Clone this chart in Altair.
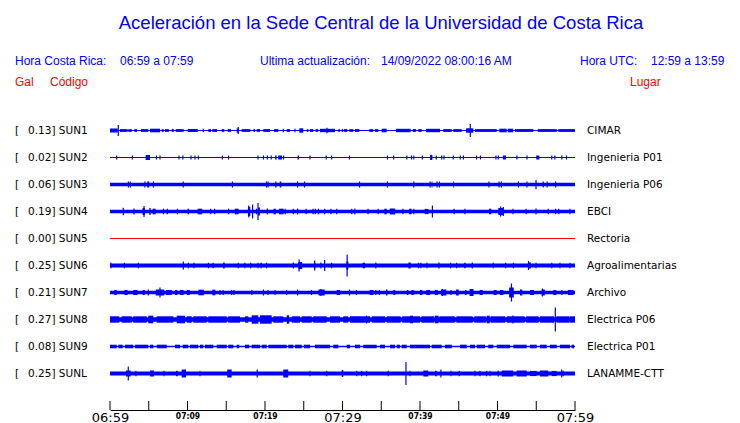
import altair as alt
import pandas as pd

# ---------------- data ----------------
stations = ["SUN1", "SUN2", "SUN3", "SUN4", "SUN5", "SUN6", "SUN7", "SUN8", "SUN9", "SUNL"]
gal = [0.13, 0.02, 0.06, 0.19, 0.00, 0.25, 0.21, 0.27, 0.08, 0.25]
places = ["CIMAR", "Ingenieria P01", "Ingenieria P06", "EBCI", "Rectoria",
          "Agroalimentarias", "Archivo", "Electrica P06", "Electrica P01", "LANAMME-CTT"]
trace_colors = ["#0000ff", "#0000ff", "#0000ff", "#0000ff", "#ff0000",
                "#0000ff", "#0000ff", "#0000ff", "#0000ff", "#0000ff"]
# half-thickness of the continuous background noise of each trace
base_amp = [0.6, 0.5, 1.8, 1.7, 0.5, 1.9, 1.7, 2.2, 0.7, 2.0]

# minutes after 06:59 (start, end, half amplitude)
SUN1_blocks = [(0.0, 0.99, 2.0), (1.29, 2.28, 1.4), (2.36, 2.80, 1.4), (3.14, 3.48, 1.4), (4.0, 4.94, 1.4),
               (5.16, 6.45, 1.8), (6.67, 6.92, 1.4), (7.1, 7.61, 1.4), (7.96, 8.22, 1.4), (8.48, 9.51, 1.4),
               (10.03, 11.32, 1.5), (12.68, 13.03, 1.4), (13.2, 13.81, 1.4), (14.41, 14.75, 1.4),
               (15.19, 15.61, 1.4), (16.35, 16.65, 2.0), (16.99, 18.1, 1.4), (18.49, 18.71, 1.4),
               (18.93, 19.35, 1.4), (19.78, 20.65, 1.4), (21.16, 21.72, 1.4), (22.8, 23.23, 1.4),
               (24.43, 24.94, 2.2), (25.38, 25.59, 1.4), (25.81, 26.23, 1.4), (26.54, 26.88, 1.4),
               (27.1, 29.03, 1.7), (29.46, 29.68, 1.4), (29.9, 30.1, 1.4), (30.19, 30.62, 1.4),
               (30.88, 31.39, 1.4), (31.61, 32.17, 1.4), (33.46, 33.97, 1.4), (34.19, 34.62, 1.4),
               (35.06, 35.7, 1.8), (36.9, 38.8, 1.7), (39.06, 39.48, 1.4), (39.78, 40.22, 1.4),
               (40.77, 42.58, 1.7), (43.0, 44.09, 1.4), (44.3, 45.38, 1.4), (45.94, 46.88, 2.2),
               (47.1, 49.9, 1.4), (50.23, 51.19, 1.8), (51.32, 52.03, 1.8), (52.26, 54.62, 1.4),
               (55.19, 57.64, 1.4), (57.85, 60.0, 1.4)]
SUN1_spikes = [(1.07, 5.5), (12.04, 1.8), (16.55, 3.5), (22.36, 1.8), (23.87, 1.8), (28.0, 2.8), (46.49, 6.5)]

SUN2_blocks = [(4.6, 5.16, 2.5), (21.3, 21.5, 2.0), (21.7, 22.2, 2.0), (24.2, 24.4, 2.0),
               (41.3, 41.6, 2.5), (50.7, 51.1, 2.0), (55.0, 55.4, 2.0)]
SUN2_spikes = [(0.86, 2), (2.88, 2), (6.0, 2), (6.45, 2), (8.9, 2), (9.4, 2), (10.45, 2), (10.97, 2),
               (11.4, 2), (14.5, 2), (15.3, 2), (19.1, 2), (19.8, 2), (20.3, 2), (20.8, 2), (22.4, 2),
               (25.8, 2), (27.9, 2), (28.6, 2), (30.9, 2), (35.8, 2), (36.6, 2), (38.3, 2), (38.9, 2),
               (39.2, 2), (40.3, 2), (42.1, 2), (42.8, 2), (43.1, 2), (44.3, 2), (45.2, 2), (45.6, 2),
               (47.3, 2), (47.8, 2), (49.8, 2), (50.1, 2), (52.5, 2), (53.8, 2), (57.0, 2), (57.4, 2),
               (58.3, 2), (58.9, 2)]

SUN3_blocks = [(4.8, 5.06, 3.0), (21.9, 22.1, 3.0), (41.5, 41.6, 3.0), (44.3, 44.4, 3.0)]
SUN3_spikes = [(2.37, 3), (2.62, 3), (4.5, 3), (5.6, 3), (9.45, 3), (15.8, 3), (20.2, 3), (20.4, 3),
               (21.4, 3), (24.2, 3), (25.1, 3), (32.2, 3), (35.8, 3), (39.2, 3), (41.3, 3), (42.2, 3),
               (42.5, 3), (48.9, 3), (50.2, 3), (50.5, 3), (52.7, 3), (53.8, 3), (54.97, 4.5), (55.9, 3),
               (56.4, 3), (57.5, 3)]

SUN4_blocks = [(4.2, 4.5, 3.5), (5.08, 5.25, 3.5), (5.5, 5.9, 2.8), (10.0, 10.2, 2.8), (11.3, 11.9, 2.8),
               (16.1, 16.6, 2.8), (17.8, 18.1, 4.5), (19.1, 19.35, 4.0), (21.1, 21.4, 2.8), (21.8, 22.4, 2.8),
               (35.4, 35.7, 2.8), (36.1, 36.8, 3.0), (38.6, 38.9, 2.8), (40.6, 41.1, 2.6), (48.9, 49.2, 2.8),
               (50.1, 50.75, 3.5)]
SUN4_spikes = [(1.72, 3.8), (3.1, 3.0), (4.39, 5.5), (6.9, 2.8), (7.4, 2.8), (8.7, 2.8), (13.0, 2.8),
               (13.5, 2.8), (15.3, 2.8), (17.9, 6.0), (18.4, 7.0), (18.9, 2.8), (19.1, 8.5), (20.3, 3.0),
               (22.6, 2.8), (23.65, 2.8), (24.2, 3.0), (25.3, 2.8), (26.2, 2.8), (26.5, 2.8), (26.9, 2.8),
               (27.7, 2.8), (28.5, 2.8), (29.25, 2.8), (31.2, 2.8), (31.6, 3.0), (33.3, 2.8), (34.6, 2.8),
               (37.8, 2.8), (39.2, 2.8), (41.6, 6.0), (44.4, 2.8), (45.8, 2.8), (50.4, 5.0), (50.75, 4.5),
               (52.0, 2.8), (53.7, 2.8), (54.97, 3.0), (56.55, 2.8), (57.5, 2.8), (57.9, 2.8), (59.35, 2.8)]

SUN5_blocks = []
SUN5_spikes = []

SUN6_blocks = [(14.6, 14.8, 3.0), (19.4, 19.6, 2.8), (24.3, 24.8, 3.5), (26.35, 26.5, 3.0), (30.5, 30.75, 4.0),
               (32.6, 32.9, 2.8), (38.5, 38.8, 3.0), (44.65, 44.8, 2.8), (45.7, 45.9, 2.8), (53.97, 54.3, 3.0)]
SUN6_spikes = [(0.13, 2.8), (1.85, 2.8), (3.65, 2.8), (9.46, 4.0), (10.1, 2.8), (10.84, 2.8), (12.7, 2.8),
               (13.3, 2.8), (16.55, 2.8), (17.4, 2.8), (18.15, 2.8), (19.1, 2.8), (20.2, 2.8), (23.65, 3.0),
               (24.4, 6.0), (26.4, 5.0), (27.2, 3.0), (27.7, 5.5), (28.6, 2.8), (30.6, 11.0), (34.3, 3.0),
               (39.8, 2.8), (40.1, 2.8), (40.9, 2.8), (42.45, 3.0), (43.95, 2.8), (46.75, 3.0), (49.45, 2.8),
               (51.05, 2.8), (52.05, 2.8), (54.0, 4.5), (54.97, 2.8), (57.0, 2.8), (58.06, 2.8), (59.35, 2.8)]

SUN7_blocks = [(0.55, 0.86, 2.5), (1.85, 2.28, 2.5), (3.0, 3.57, 2.5), (4.2, 4.5, 2.5), (5.9, 7.0, 3.0),
               (7.2, 7.96, 2.5), (8.4, 8.7, 2.5), (9.0, 9.5, 2.5), (9.9, 10.3, 2.5), (11.4, 12.1, 2.8),
               (13.2, 13.6, 2.8), (26.9, 27.7, 3.0), (29.25, 29.7, 2.5), (33.5, 34.0, 2.5), (35.6, 35.8, 3.0),
               (36.55, 36.8, 2.5), (38.3, 38.5, 2.5), (38.9, 39.2, 2.5), (40.0, 40.3, 2.5), (40.8, 41.3, 2.5),
               (41.9, 42.3, 2.5), (42.7, 43.4, 3.0), (44.65, 45.0, 3.0), (45.8, 46.0, 2.5), (46.4, 46.9, 3.5),
               (47.7, 48.1, 2.5), (49.5, 49.9, 2.5), (50.3, 50.75, 2.5), (51.5, 52.1, 5.0), (52.9, 53.2, 3.0),
               (54.2, 54.7, 2.5), (55.7, 56.1, 3.0), (57.2, 57.6, 2.5), (59.1, 59.8, 2.5)]
SUN7_spikes = [(4.94, 3.0), (6.45, 5.0), (14.2, 2.5), (14.6, 2.5), (15.7, 2.5), (16.0, 2.5), (18.3, 2.5),
               (19.8, 3.0), (20.4, 2.5), (21.3, 2.5), (22.8, 2.5), (24.2, 3.0), (26.0, 2.5), (27.2, 3.5),
               (30.9, 3.0), (31.8, 2.5), (34.3, 2.5), (34.75, 2.5), (42.9, 3.5), (44.0, 2.5), (51.8, 9.0),
               (55.8, 4.0), (58.3, 2.5)]

SUN8_blocks = [(0.0, 1.2, 3.2), (1.51, 2.8, 3.2), (3.0, 4.74, 3.2), (4.94, 5.59, 3.8), (6.03, 8.17, 3.2),
               (8.61, 9.68, 3.8), (9.9, 10.54, 3.2), (10.75, 12.48, 3.2), (12.68, 15.06, 3.2), (15.26, 16.77, 3.2),
               (17.42, 17.85, 3.2), (18.28, 19.14, 4.2), (19.35, 20.86, 4.2), (21.07, 22.36, 3.2),
               (22.8, 23.12, 4.2), (23.45, 24.52, 3.2), (24.74, 26.03, 3.2), (26.23, 27.96, 3.2),
               (28.39, 29.68, 3.2), (30.1, 30.75, 3.2), (30.97, 33.55, 3.2), (33.8, 35.5, 3.2), (35.7, 37.5, 3.2),
               (37.7, 40.0, 3.2), (38.7, 39.1, 3.8), (40.2, 41.8, 3.2), (41.9, 42.4, 3.8), (42.5, 44.5, 3.2),
               (44.7, 46.8, 3.2), (47.0, 48.5, 3.2), (48.6, 49.0, 3.8), (49.1, 51.0, 3.2), (51.2, 53.5, 3.2),
               (53.7, 55.3, 3.2), (55.5, 57.3, 3.2), (57.6, 59.3, 3.2), (59.35, 60.0, 3.2)]
SUN8_spikes = [(33.1, 4.0), (52.0, 4.0), (57.46, 12.0)]

SUN9_blocks = [(0.0, 0.86, 1.8), (1.07, 1.64, 1.8), (1.94, 3.0, 1.8), (3.23, 4.94, 1.8), (5.16, 5.59, 1.8),
               (6.03, 7.32, 1.8), (8.39, 9.03, 1.8), (9.38, 10.1, 1.8), (10.32, 11.39, 1.8), (11.61, 12.04, 1.8),
               (12.26, 13.33, 1.8), (13.77, 15.06, 1.8), (15.26, 15.91, 1.8), (16.35, 16.68, 1.8),
               (17.42, 17.97, 1.8), (18.28, 19.35, 1.8), (19.57, 20.22, 1.8), (20.43, 22.8, 1.8),
               (23.0, 23.65, 1.8), (23.87, 24.74, 1.8), (25.03, 25.81, 1.8), (26.45, 28.39, 1.8),
               (28.81, 29.46, 1.8), (30.54, 30.97, 1.8), (31.61, 32.26, 1.8), (32.68, 34.41, 1.8),
               (34.84, 35.48, 1.8), (36.13, 36.77, 1.8), (36.99, 37.42, 1.8), (37.64, 38.28, 1.8),
               (38.71, 41.29, 1.8), (41.51, 42.8, 1.8), (43.23, 44.09, 1.8), (45.16, 46.03, 1.8),
               (46.45, 47.1, 1.8), (47.32, 48.39, 1.8), (48.81, 49.46, 1.8), (49.9, 51.61, 1.8),
               (52.04, 53.77, 1.8), (54.19, 55.06, 1.8), (55.48, 56.35, 1.8), (56.77, 57.64, 1.8),
               (58.06, 59.35, 1.8), (59.57, 59.87, 1.8)]
SUN9_spikes = []

SUNL_blocks = [(2.06, 2.67, 3.0), (5.16, 5.68, 3.0), (8.52, 8.74, 2.8), (9.25, 9.81, 4.0), (15.13, 15.7, 4.0),
               (22.36, 23.0, 4.0), (29.9, 30.1, 3.5), (40.43, 41.07, 3.0), (41.94, 42.15, 2.8),
               (50.54, 52.03, 3.0), (52.47, 53.77, 3.0), (54.19, 55.06, 2.6), (55.48, 56.55, 3.0),
               (56.99, 57.64, 2.6)]
SUNL_spikes = [(2.36, 7.0), (3.35, 2.8), (6.97, 2.8), (11.61, 2.8), (19.0, 4.0), (25.8, 2.8), (27.96, 2.8),
               (31.83, 2.8), (32.48, 2.8), (33.12, 2.8), (35.9, 2.8), (38.19, 11.5), (38.71, 2.8), (42.7, 4.0),
               (44.0, 2.8), (45.07, 2.8), (47.1, 2.8), (47.74, 2.8), (48.6, 2.8), (49.03, 2.8), (50.1, 3.0),
               (58.28, 4.0), (58.49, 2.8)]

tick_minutes = [0, 5, 10, 15, 20, 25, 30, 35, 40, 45, 50, 55, 60]
label_minutes = [0, 10, 20, 30, 40, 50, 60]
tick_labels = ["06:59", "07:09", "07:19", "07:29", "07:39", "07:49", "07:59"]

# ---------------- layout / style ----------------
W, H = 465, 292
ROW_PX = 27
TOP_OFF = 12.5
PAD_TOP = 110
BLUE = "#0000ff"
RED = "#ff0000"
ORIGIN_X, ORIGIN_Y = 110, 8 + PAD_TOP

blocks_by_station = {"SUN1": SUN1_blocks, "SUN2": SUN2_blocks, "SUN3": SUN3_blocks, "SUN4": SUN4_blocks,
                     "SUN5": SUN5_blocks, "SUN6": SUN6_blocks, "SUN7": SUN7_blocks, "SUN8": SUN8_blocks,
                     "SUN9": SUN9_blocks, "SUNL": SUNL_blocks}
spikes_by_station = {"SUN1": SUN1_spikes, "SUN2": SUN2_spikes, "SUN3": SUN3_spikes, "SUN4": SUN4_spikes,
                     "SUN5": SUN5_spikes, "SUN6": SUN6_spikes, "SUN7": SUN7_spikes, "SUN8": SUN8_spikes,
                     "SUN9": SUN9_spikes, "SUNL": SUNL_spikes}

base_rows, block_rows, spike_rows, label_rows = [], [], [], []
for i, st in enumerate(stations):
    col = trace_colors[i]
    base_rows.append({"t0": 0, "t1": 60, "y1": i - base_amp[i] / ROW_PX, "y2": i + base_amp[i] / ROW_PX,
                      "color": col})
    for (a, b, amp) in blocks_by_station[st]:
        block_rows.append({"t0": a, "t1": b, "y1": i - amp / ROW_PX, "y2": i + amp / ROW_PX, "color": col})
    for (t, amp) in spikes_by_station[st]:
        spike_rows.append({"t": t, "y1": i - amp / ROW_PX, "y2": i + amp / ROW_PX, "color": col})
    label_rows.append({"row": i, "left": f"{gal[i]:.2f}] {st}", "right": places[i], "br": "["})

base_df = pd.DataFrame(base_rows)
block_df = pd.DataFrame(block_rows)
spike_df = pd.DataFrame(spike_rows)
label_df = pd.DataFrame(label_rows)
tick_df = pd.DataFrame({"t": tick_minutes})

x_scale = alt.Scale(domain=[0, 60], nice=False, zero=False)
y_scale = alt.Scale(domain=[-TOP_OFF / ROW_PX, (H - TOP_OFF) / ROW_PX], reverse=True, nice=False, zero=False)

label_expr = "[" + ",".join(f"'{s}'" for s in tick_labels) + "][round(datum.value / 10)]"
big_test = "datum.value % 30 === 0"
x_axis = alt.Axis(
    values=label_minutes, labelExpr=label_expr, title=None, grid=False, ticks=False, tickSize=0,
    domain=True, domainColor="black", domainWidth=1, labelColor="black", labelPadding=1,
    labelOverlap=False, labelFlush=False,
    labelFontSize={"condition": {"test": big_test, "value": 13}, "value": 8.5},
    labelFont={"condition": {"test": big_test, "value": "DejaVu Sans"},
               "value": "DejaVu Sans Condensed, DejaVu Sans"},
    labelFontWeight={"condition": {"test": big_test, "value": "normal"}, "value": "bold"},
)

base = alt.Chart(base_df).mark_rect().encode(
    x=alt.X("t0:Q", scale=x_scale, axis=x_axis),
    x2="t1:Q",
    y=alt.Y("y1:Q", scale=y_scale, axis=None),
    y2="y2:Q",
    color=alt.Color("color:N", scale=None),
)
blocks = alt.Chart(block_df).mark_rect().encode(
    x=alt.X("t0:Q"), x2="t1:Q", y=alt.Y("y1:Q", axis=None), y2="y2:Q",
    color=alt.Color("color:N", scale=None),
)
spikes = alt.Chart(spike_df).mark_rule(strokeWidth=1.2).encode(
    x=alt.X("t:Q"), y=alt.Y("y1:Q", axis=None), y2="y2:Q",
    color=alt.Color("color:N", scale=None),
)
ticks = alt.Chart(tick_df).mark_rule(color="black", strokeWidth=1).encode(
    x=alt.X("t:Q"), y=alt.value(H - 9), y2=alt.value(H),
)

lab_font = "DejaVu Sans"
brackets = alt.Chart(label_df).mark_text(align="left", baseline="middle", font=lab_font, fontSize=10.5,
                                         color="black").encode(
    x=alt.value(15 - ORIGIN_X), y=alt.Y("row:Q", axis=None), text="br:N")
left_labels = alt.Chart(label_df).mark_text(align="left", baseline="middle", font=lab_font, fontSize=10.5,
                                            color="black").encode(
    x=alt.value(28 - ORIGIN_X), y=alt.Y("row:Q", axis=None), text="left:N")
right_labels = alt.Chart(label_df).mark_text(align="left", baseline="middle", font=lab_font, fontSize=10.5,
                                             color="black").encode(
    x=alt.value(587 - ORIGIN_X), y=alt.Y("row:Q", axis=None), text="right:N")


def header(s, x, y, color, size, align="left"):
    return alt.Chart(pd.DataFrame({"s": [s]})).mark_text(
        align=align, baseline="middle", font="Liberation Sans", fontSize=size, color=color
    ).encode(x=alt.value(x - ORIGIN_X), y=alt.value(y - ORIGIN_Y), text="s:N")


headers = [
    header("Aceleración en la Sede Central de la Universidad de Costa Rica", 381, 23, BLUE, 18.5, "center"),
    header("Hora Costa Rica:", 15, 61, BLUE, 12),
    header("06:59 a 07:59", 120, 61, BLUE, 12),
    header("Ultima actualización:", 260, 61, BLUE, 12),
    header("14/09/2022 08:00:16 AM", 381, 61, BLUE, 12),
    header("Hora UTC:", 580, 61, BLUE, 12),
    header("12:59 a 13:59", 651, 61, BLUE, 12),
    header("Gal", 15, 82, RED, 12),
    header("Código", 50, 82, RED, 12),
    header("Lugar", 630, 82, RED, 12),
]

chart = alt.layer(base, blocks, spikes, ticks, brackets, left_labels, right_labels, *headers).properties(
    width=W, height=H,
    autosize=alt.AutoSizeParams(type="none"),
    padding={"left": 102, "top": PAD_TOP, "right": 157, "bottom": 13},
    background="white",
).configure_view(stroke=None)

chart.save("out.html", embed_options={"renderer": "svg", "actions": False})
